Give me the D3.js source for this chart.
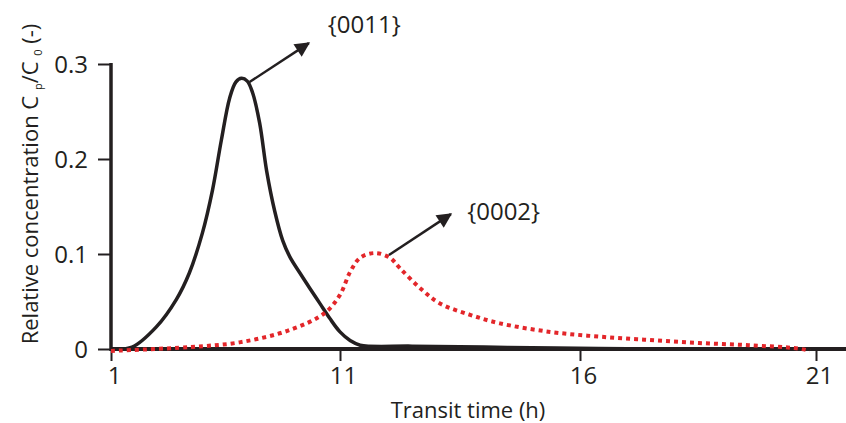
<!DOCTYPE html>
<html>
<head>
<meta charset="utf-8">
<script src="https://cdn.jsdelivr.net/npm/d3@7"></script>
<style>
  body { margin: 0; background: #fff; }
  svg text { font-family: "Open Sans", Lato, sans-serif; fill: #231f20; }
</style>
</head>
<body>
<div id="chart"></div>
<script>
// transit time (h) and relative concentration Cp/C0
const time0011 = [1, 1.92, 2.97, 3.85, 4.42, 4.99, 5.43, 5.82, 6.18, 6.45, 6.7, 6.95, 7.18, 7.49, 7.8, 8.15, 8.5, 8.81, 9.25, 9.68, 10.12, 10.56, 11.0, 11.21, 11.42, 12.5, 14, 15.5, 17.6];
const conc0011 = [0, 0.002, 0.023, 0.052, 0.08, 0.122, 0.167, 0.22, 0.264, 0.281, 0.285, 0.282, 0.27, 0.238, 0.187, 0.145, 0.114, 0.097, 0.08, 0.064, 0.048, 0.032, 0.018, 0.009, 0.004, 0.003, 0.002, 0.001, 0];

const time0002 = [1, 4.42, 6.61, 8.81, 10.34, 11.0, 11.21, 11.42, 11.73, 12.04, 12.25, 12.67, 13.08, 13.71, 14.33, 15.38, 16.42, 17.47, 18.52, 19.57, 20.62, 20.87];
const conc0002 = [-0.002, 0.002, 0.007, 0.02, 0.038, 0.057, 0.081, 0.096, 0.101, 0.096, 0.085, 0.064, 0.048, 0.036, 0.027, 0.018, 0.013, 0.0095, 0.0063, 0.004, 0.0005, -0.002];

const xTicks = [1, 11, 16, 21];
const yTicks = [0, 0.1, 0.2, 0.3];

// annotation: peak -> arrow tip, label anchor
const labels = ["{0011}", "{0002}"];
const arrowFrom = [[7.05, 0.281], [12.02, 0.099]];
const arrowTo = [[9.64, 0.322], [13.31, 0.142]];
const labelAt = [[10.47, 0.333], [13.65, 0.136]];

const width = 846;
const height = 423;

const svg = d3.select("#chart")
	.append("svg")
		.attr("width", width)
		.attr("height", height);

// the original axis is not linear: 1..11 is squeezed
const xScale = d3.scaleLinear()
	.domain([1, 11, 16, 21])
	.range([111, 340, 580, 816]);

const yScale = d3.scaleLinear()
	.domain([0, 0.3])
	.range([349, 64]);

// axes
const xAxis = svg.append("g")
	.attr("transform", `translate(0, ${yScale(0)})`)
	.call(d3.axisBottom(xScale).tickValues(xTicks).tickSize(12).tickPadding(6).tickFormat(d3.format("d")));
xAxis.select(".domain").remove();
xAxis.selectAll(".tick line").attr("stroke", "#231f20").attr("stroke-width", 2);
xAxis.selectAll(".tick text")
	.attr("dx", 3)
	.style("font-size", "24px");

const yAxis = svg.append("g")
	.attr("transform", `translate(${xScale(1)}, 0)`)
	.call(d3.axisLeft(yScale).tickValues(yTicks).tickSize(13).tickPadding(10)
		.tickFormat(d => d === 0 ? "0" : d3.format(".1f")(d)));
yAxis.select(".domain").remove();
yAxis.selectAll(".tick line").attr("stroke", "#231f20").attr("stroke-width", 2);
yAxis.selectAll(".tick text")
	.attr("dy", "0.36em")
	.style("font-size", "24px");

// axis lines, drawn thick like the source
svg.append("line")
	.attr("x1", xScale(1)).attr("x2", width)
	.attr("y1", yScale(0)).attr("y2", yScale(0))
	.attr("stroke", "#231f20").attr("stroke-width", 4);
svg.append("line")
	.attr("x1", xScale(1)).attr("x2", xScale(1))
	.attr("y1", yScale(0.3) - 1).attr("y2", yScale(0) + 2)
	.attr("stroke", "#231f20").attr("stroke-width", 3.5);

// curves
const line = d3.line()
	.x(d => xScale(d[0]))
	.y(d => yScale(d[1]))
	.curve(d3.curveCatmullRom.alpha(0.5));

svg.append("path")
	.datum(d3.zip(time0011, conc0011))
	.attr("d", line)
	.attr("fill", "none")
	.attr("stroke", "#231f20")
	.attr("stroke-width", 3.5);

svg.append("path")
	.datum(d3.zip(time0002, conc0002))
	.attr("d", line)
	.attr("fill", "none")
	.attr("stroke", "#e3262a")
	.attr("stroke-width", 4)
	.attr("stroke-dasharray", "4,4");

// arrows
svg.append("defs").append("marker")
	.attr("id", "head")
	.attr("viewBox", "0 0 10 10")
	.attr("refX", 9).attr("refY", 5)
	.attr("markerWidth", 7).attr("markerHeight", 6)
	.attr("markerUnits", "strokeWidth")
	.attr("orient", "auto")
	.append("path")
		.attr("d", "M0,0 L10,5 L0,10 z")
		.attr("fill", "#231f20");

labels.forEach((t, i) => {
	svg.append("line")
		.attr("x1", xScale(arrowFrom[i][0])).attr("y1", yScale(arrowFrom[i][1]))
		.attr("x2", xScale(arrowTo[i][0])).attr("y2", yScale(arrowTo[i][1]))
		.attr("stroke", "#231f20")
		.attr("stroke-width", 2.5)
		.attr("marker-end", "url(#head)");
	svg.append("text")
		.attr("x", xScale(labelAt[i][0]))
		.attr("y", yScale(labelAt[i][1]))
		.style("font-size", "24px")
		.text(t);
});

// titles
svg.append("text")
	.attr("x", 468)
	.attr("y", 418)
	.attr("text-anchor", "middle")
	.style("font-size", "22px")
	.text("Transit time (h)");

const yTitle = svg.append("text")
	.attr("transform", "translate(38, 184) rotate(-90)")
	.attr("text-anchor", "middle")
	.style("font-size", "22px");
yTitle.append("tspan").text("Relative concentration C ");
yTitle.append("tspan").attr("font-size", "11px").attr("dy", 4).text("p");
yTitle.append("tspan").attr("dy", -4).text("/C ");
yTitle.append("tspan").attr("font-size", "11px").attr("dy", 4).text("0");
yTitle.append("tspan").attr("dy", -4).text(" (-)");
</script>
</body>
</html>
